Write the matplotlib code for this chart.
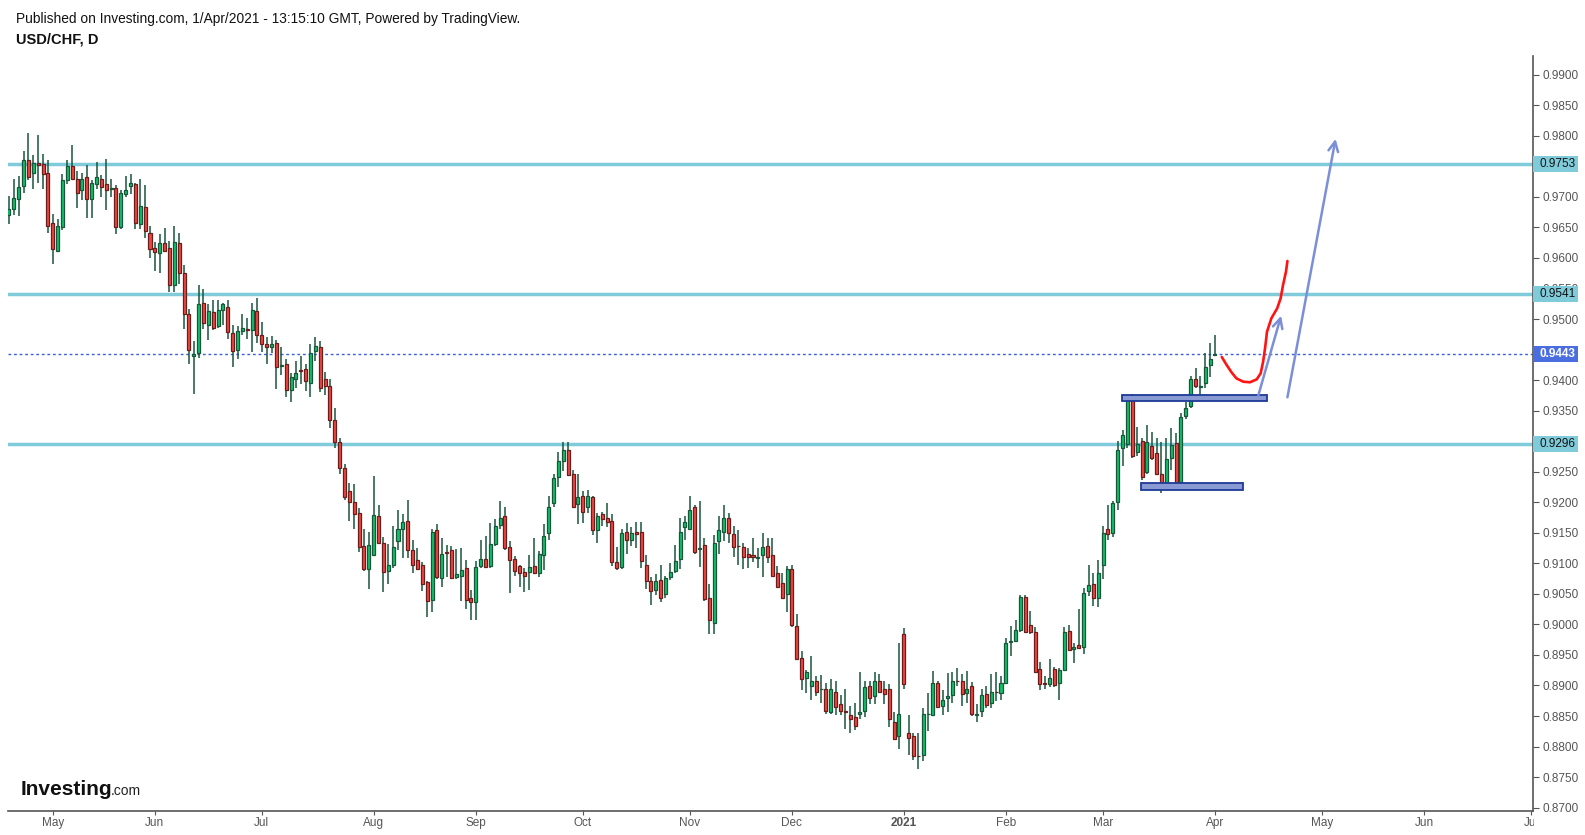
import numpy as np
import pandas as pd
import matplotlib.pyplot as plt
import matplotlib.transforms as mtransforms
from matplotlib.patches import Rectangle

plt.rcParams['font.family'] = ['Liberation Sans', 'DejaVu Sans']

# daily bars, first bar 20 Apr 2020, last bar 1 Apr 2021 (weekdays)
first_day = '2020-04-20'
axis_end = '2021-07-01'

opens = [
    0.9671, 0.9680, 0.9697, 0.9717, 0.9760, 0.9739, 0.9755, 0.9753, 0.9739, 0.9657,
    0.9612, 0.9650, 0.9727, 0.9750, 0.9730, 0.9711, 0.9732, 0.9696, 0.9721, 0.9730,
    0.9721, 0.9713, 0.9714, 0.9650, 0.9705, 0.9717, 0.9721, 0.9655, 0.9683, 0.9640,
    0.9616, 0.9608, 0.9624, 0.9616, 0.9555, 0.9624, 0.9575, 0.9508, 0.9439, 0.9444,
    0.9526, 0.9491, 0.9511, 0.9488, 0.9514, 0.9519, 0.9477, 0.9449, 0.9480, 0.9483,
    0.9482, 0.9513, 0.9473, 0.9459, 0.9454, 0.9460, 0.9423, 0.9426, 0.9383, 0.9401,
    0.9416, 0.9418, 0.9396, 0.9447, 0.9454, 0.9401, 0.9390, 0.9334, 0.9298, 0.9256,
    0.9218, 0.9200, 0.9182, 0.9128, 0.9090, 0.9113, 0.9177, 0.9134, 0.9087, 0.9098,
    0.9136, 0.9157, 0.9169, 0.9121, 0.9105, 0.9098, 0.9069, 0.9040, 0.9154, 0.9076,
    0.9119, 0.9121, 0.9077, 0.9080, 0.9092, 0.9043, 0.9036, 0.9095, 0.9107, 0.9095,
    0.9131, 0.9162, 0.9177, 0.9126, 0.9107, 0.9095, 0.9085, 0.9085, 0.9095, 0.9084,
    0.9113, 0.9149, 0.9198, 0.9241, 0.9268, 0.9286, 0.9247, 0.9197, 0.9210, 0.9192,
    0.9208, 0.9154, 0.9180, 0.9175, 0.9170, 0.9102, 0.9094, 0.9152, 0.9139, 0.9152,
    0.9152, 0.9098, 0.9071, 0.9056, 0.9072, 0.9049, 0.9077, 0.9087, 0.9107, 0.9159,
    0.9157, 0.9192, 0.9123, 0.9130, 0.9043, 0.9002, 0.9136, 0.9152, 0.9175, 0.9148,
    0.9129, 0.9126, 0.9115, 0.9113, 0.9108, 0.9113, 0.9128, 0.9113, 0.9084, 0.9067,
    0.9049, 0.9090, 0.8997, 0.8945, 0.8913, 0.8899, 0.8907, 0.8894, 0.8894, 0.8856,
    0.8889, 0.8869, 0.8859, 0.8851, 0.8848, 0.8853, 0.8859, 0.8899, 0.8882, 0.8908,
    0.8895, 0.8894, 0.8840, 0.8818, 0.8985, 0.8822, 0.8817, 0.8785, 0.8786, 0.8853,
    0.8851, 0.8904, 0.8866, 0.8879, 0.8884, 0.8908, 0.8907, 0.8887, 0.8899, 0.8852,
    0.8858, 0.8886, 0.8871, 0.8890, 0.8888, 0.8904, 0.8972, 0.8973, 0.8991, 0.9045,
    0.8999, 0.8988, 0.8927, 0.8904, 0.8902, 0.8927, 0.8904, 0.8925, 0.8989, 0.8959,
    0.8966, 0.8963, 0.9054, 0.9066, 0.9044, 0.9097, 0.9156, 0.9149, 0.9200, 0.9288,
    0.9295, 0.9368, 0.9283, 0.9300, 0.9249, 0.9292, 0.9280, 0.9247, 0.9228, 0.9272,
    0.9297, 0.9233, 0.9341, 0.9357, 0.9401, 0.9389, 0.9395, 0.9425, 0.9441,
]
highs = [
    0.9701, 0.9729, 0.9734, 0.9775, 0.9804, 0.9769, 0.9801, 0.9770, 0.9760, 0.9672,
    0.9664, 0.9737, 0.9760, 0.9785, 0.9742, 0.9739, 0.9752, 0.9728, 0.9757, 0.9736,
    0.9762, 0.9730, 0.9719, 0.9711, 0.9734, 0.9737, 0.9723, 0.9729, 0.9719, 0.9653,
    0.9626, 0.9639, 0.9649, 0.9628, 0.9652, 0.9640, 0.9588, 0.9516, 0.9464, 0.9555,
    0.9549, 0.9524, 0.9531, 0.9531, 0.9526, 0.9531, 0.9490, 0.9488, 0.9509, 0.9501,
    0.9526, 0.9534, 0.9495, 0.9470, 0.9472, 0.9465, 0.9454, 0.9434, 0.9411, 0.9432,
    0.9439, 0.9426, 0.9459, 0.9470, 0.9464, 0.9413, 0.9401, 0.9354, 0.9305, 0.9263,
    0.9231, 0.9230, 0.9190, 0.9156, 0.9151, 0.9243, 0.9195, 0.9143, 0.9131, 0.9161,
    0.9187, 0.9180, 0.9203, 0.9138, 0.9125, 0.9102, 0.9071, 0.9157, 0.9164, 0.9141,
    0.9130, 0.9128, 0.9123, 0.9125, 0.9105, 0.9056, 0.9103, 0.9138, 0.9144, 0.9166,
    0.9172, 0.9202, 0.9193, 0.9136, 0.9112, 0.9098, 0.9092, 0.9113, 0.9141, 0.9120,
    0.9164, 0.9210, 0.9246, 0.9283, 0.9298, 0.9299, 0.9252, 0.9246, 0.9218, 0.9220,
    0.9210, 0.9182, 0.9184, 0.9198, 0.9180, 0.9126, 0.9157, 0.9166, 0.9159, 0.9167,
    0.9167, 0.9113, 0.9077, 0.9082, 0.9097, 0.9080, 0.9100, 0.9130, 0.9175, 0.9177,
    0.9210, 0.9195, 0.9202, 0.9141, 0.9066, 0.9146, 0.9178, 0.9196, 0.9182, 0.9161,
    0.9154, 0.9133, 0.9125, 0.9141, 0.9125, 0.9150, 0.9141, 0.9141, 0.9095, 0.9084,
    0.9095, 0.9097, 0.9017, 0.8956, 0.8925, 0.8949, 0.8915, 0.8917, 0.8904, 0.8910,
    0.8907, 0.8884, 0.8894, 0.8866, 0.8871, 0.8922, 0.8907, 0.8907, 0.8922, 0.8918,
    0.8907, 0.8902, 0.8856, 0.8969, 0.8994, 0.8851, 0.8823, 0.8823, 0.8863, 0.8887,
    0.8923, 0.8907, 0.8892, 0.8920, 0.8922, 0.8928, 0.8918, 0.8923, 0.8905, 0.8869,
    0.8895, 0.8899, 0.8918, 0.8922, 0.8915, 0.8977, 0.8997, 0.9007, 0.9048, 0.9048,
    0.9022, 0.8996, 0.8938, 0.8915, 0.8943, 0.8930, 0.8928, 0.8996, 0.8999, 0.8969,
    0.9026, 0.9059, 0.9097, 0.9084, 0.9105, 0.9161, 0.9195, 0.9202, 0.9300, 0.9319,
    0.9372, 0.9377, 0.9324, 0.9306, 0.9326, 0.9315, 0.9306, 0.9298, 0.9306, 0.9321,
    0.9313, 0.9346, 0.9364, 0.9406, 0.9419, 0.9406, 0.9444, 0.9460, 0.9473,
]
lows = [
    0.9656, 0.9670, 0.9669, 0.9707, 0.9728, 0.9713, 0.9722, 0.9713, 0.9640, 0.9590,
    0.9610, 0.9646, 0.9721, 0.9729, 0.9681, 0.9695, 0.9666, 0.9666, 0.9713, 0.9699,
    0.9678, 0.9699, 0.9639, 0.9647, 0.9699, 0.9704, 0.9647, 0.9647, 0.9633, 0.9600,
    0.9579, 0.9575, 0.9609, 0.9545, 0.9544, 0.9557, 0.9483, 0.9426, 0.9377, 0.9436,
    0.9483, 0.9465, 0.9482, 0.9485, 0.9490, 0.9467, 0.9421, 0.9434, 0.9473, 0.9468,
    0.9446, 0.9461, 0.9446, 0.9427, 0.9444, 0.9385, 0.9409, 0.9372, 0.9364, 0.9387,
    0.9393, 0.9382, 0.9372, 0.9431, 0.9380, 0.9375, 0.9322, 0.9288, 0.9247, 0.9204,
    0.9169, 0.9157, 0.9119, 0.9088, 0.9058, 0.9112, 0.9133, 0.9053, 0.9066, 0.9092,
    0.9121, 0.9108, 0.9108, 0.9084, 0.9089, 0.9054, 0.9012, 0.9020, 0.9074, 0.9062,
    0.9077, 0.9074, 0.9074, 0.9038, 0.9026, 0.9008, 0.9008, 0.9092, 0.9092, 0.9092,
    0.9128, 0.9157, 0.9121, 0.9051, 0.9079, 0.9061, 0.9053, 0.9056, 0.9082, 0.9077,
    0.9089, 0.9138, 0.9192, 0.9225, 0.9251, 0.9243, 0.9190, 0.9164, 0.9166, 0.9182,
    0.9146, 0.9134, 0.9161, 0.9159, 0.9095, 0.9089, 0.9090, 0.9115, 0.9128, 0.9125,
    0.9092, 0.9058, 0.9031, 0.9048, 0.9036, 0.9043, 0.9072, 0.9084, 0.9090, 0.9138,
    0.9156, 0.9116, 0.9094, 0.9038, 0.8984, 0.8985, 0.9115, 0.9137, 0.9133, 0.9110,
    0.9097, 0.9090, 0.9092, 0.9102, 0.9092, 0.9077, 0.9100, 0.9079, 0.9061, 0.9041,
    0.9020, 0.8995, 0.8941, 0.8892, 0.8887, 0.8877, 0.8882, 0.8872, 0.8854, 0.8853,
    0.8851, 0.8851, 0.8828, 0.8823, 0.8827, 0.8845, 0.8848, 0.8869, 0.8869, 0.8889,
    0.8869, 0.8832, 0.8811, 0.8796, 0.8895, 0.8787, 0.8778, 0.8763, 0.8776, 0.8825,
    0.8850, 0.8863, 0.8851, 0.8856, 0.8871, 0.8899, 0.8866, 0.8871, 0.8850, 0.8840,
    0.8848, 0.8863, 0.8863, 0.8874, 0.8877, 0.8904, 0.8948, 0.8972, 0.8988, 0.8987,
    0.8984, 0.8920, 0.8892, 0.8894, 0.8898, 0.8898, 0.8877, 0.8923, 0.8956, 0.8936,
    0.8959, 0.8951, 0.9047, 0.9030, 0.9028, 0.9074, 0.9138, 0.9143, 0.9188, 0.9260,
    0.9288, 0.9273, 0.9275, 0.9236, 0.9246, 0.9269, 0.9244, 0.9215, 0.9221, 0.9252,
    0.9224, 0.9231, 0.9337, 0.9354, 0.9387, 0.9372, 0.9387, 0.9405, 0.9439,
]
closes = [
    0.9680, 0.9698, 0.9716, 0.9760, 0.9732, 0.9755, 0.9752, 0.9737, 0.9653, 0.9614,
    0.9652, 0.9727, 0.9750, 0.9730, 0.9707, 0.9730, 0.9696, 0.9722, 0.9732, 0.9716,
    0.9712, 0.9714, 0.9651, 0.9706, 0.9711, 0.9722, 0.9657, 0.9685, 0.9644, 0.9614,
    0.9609, 0.9624, 0.9612, 0.9555, 0.9626, 0.9576, 0.9508, 0.9449, 0.9442, 0.9524,
    0.9493, 0.9513, 0.9486, 0.9514, 0.9524, 0.9478, 0.9447, 0.9480, 0.9485, 0.9482,
    0.9514, 0.9473, 0.9459, 0.9454, 0.9459, 0.9421, 0.9424, 0.9383, 0.9405, 0.9411,
    0.9415, 0.9398, 0.9444, 0.9455, 0.9387, 0.9390, 0.9334, 0.9298, 0.9256, 0.9208,
    0.9200, 0.9180, 0.9126, 0.9090, 0.9130, 0.9179, 0.9134, 0.9085, 0.9098, 0.9126,
    0.9157, 0.9167, 0.9121, 0.9097, 0.9090, 0.9066, 0.9038, 0.9151, 0.9077, 0.9116,
    0.9117, 0.9076, 0.9082, 0.9089, 0.9040, 0.9036, 0.9094, 0.9107, 0.9094, 0.9131,
    0.9161, 0.9174, 0.9125, 0.9105, 0.9087, 0.9084, 0.9080, 0.9094, 0.9084, 0.9116,
    0.9144, 0.9193, 0.9239, 0.9268, 0.9286, 0.9244, 0.9192, 0.9208, 0.9184, 0.9210,
    0.9154, 0.9177, 0.9172, 0.9167, 0.9102, 0.9092, 0.9149, 0.9139, 0.9149, 0.9148,
    0.9103, 0.9071, 0.9054, 0.9071, 0.9043, 0.9076, 0.9085, 0.9103, 0.9152, 0.9167,
    0.9188, 0.9118, 0.9125, 0.9041, 0.9007, 0.9134, 0.9154, 0.9174, 0.9149, 0.9126,
    0.9128, 0.9111, 0.9110, 0.9110, 0.9110, 0.9126, 0.9111, 0.9080, 0.9062, 0.9043,
    0.9090, 0.8999, 0.8943, 0.8910, 0.8922, 0.8907, 0.8890, 0.8894, 0.8859, 0.8894,
    0.8864, 0.8858, 0.8856, 0.8845, 0.8833, 0.8856, 0.8897, 0.8879, 0.8907, 0.8890,
    0.8886, 0.8845, 0.8812, 0.8854, 0.8902, 0.8814, 0.8784, 0.8784, 0.8853, 0.8854,
    0.8904, 0.8864, 0.8877, 0.8882, 0.8908, 0.8907, 0.8886, 0.8895, 0.8853, 0.8853,
    0.8884, 0.8868, 0.8889, 0.8889, 0.8904, 0.8969, 0.8973, 0.8991, 0.9045, 0.8988,
    0.8987, 0.8922, 0.8902, 0.8903, 0.8913, 0.8900, 0.8925, 0.8987, 0.8958, 0.8963,
    0.8961, 0.9051, 0.9064, 0.9044, 0.9084, 0.9149, 0.9148, 0.9198, 0.9285, 0.9310,
    0.9367, 0.9275, 0.9295, 0.9242, 0.9298, 0.9272, 0.9246, 0.9224, 0.9270, 0.9293,
    0.9231, 0.9339, 0.9355, 0.9401, 0.9390, 0.9390, 0.9421, 0.9434, 0.9443,
]

levels = [0.9753, 0.9541, 0.9296]
last_price = 0.9443
price_ticks = [0.8700, 0.8750, 0.8800, 0.8850, 0.8900, 0.8950, 0.9000, 0.9050,
               0.9100, 0.9150, 0.9200, 0.9250, 0.9300, 0.9350, 0.9400, 0.9450,
               0.9500, 0.9550, 0.9600, 0.9650, 0.9700, 0.9750, 0.9800, 0.9850,
               0.9900]

# drawings, anchored at (bar number, price)
zones = [(228.9, 258.7, 0.9366, 0.9376), (232.8, 253.8, 0.9220, 0.9231)]
arrow_tails = [(256.9, 0.93745), (262.9, 0.93718)]
arrow_tips = [(261.6, 0.95054), (272.8, 0.97949)]
curve_bars = [249.4, 250.4, 251.4, 252.4, 253.8, 255.2, 256.6, 257.4, 257.9,
              258.3, 258.7, 259.6, 260.8, 261.5, 262.0, 262.6, 262.9]
curve_prices = [0.94378, 0.94247, 0.94128, 0.94029, 0.93974, 0.93964, 0.94013,
                0.94111, 0.94301, 0.94521, 0.94792, 0.95012, 0.95176, 0.95339,
                0.95557, 0.95775, 0.95950]

GREEN = '#10c36a'
GREEN_EDGE = '#17563a'
RED = '#f2473f'
RED_EDGE = '#6a1d1d'
WICK = '#17563a'
LEVEL = '#80cbd9'
AXIS_GREY = '#555555'

W, H = 1585, 835
fig = plt.figure(figsize=(W / 100, H / 100), dpi=100)
ax = fig.add_axes([8 / W, 1 - 811 / H, (1533 - 8) / W, (811 - 56) / H])

o = np.array(opens)
hi = np.array(highs)
lo = np.array(lows)
c = np.array(closes)
x = np.arange(len(o))
up = c >= o

ax.vlines(x, lo, hi, color=WICK, linewidth=1.1, zorder=2)
ax.bar(x[up], (c - o)[up], bottom=o[up], width=0.62, color=GREEN,
       edgecolor=GREEN_EDGE, linewidth=0.9, zorder=3)
ax.bar(x[~up], (o - c)[~up], bottom=c[~up], width=0.62, color=RED,
       edgecolor=RED_EDGE, linewidth=0.9, zorder=3)

for lvl in levels:
    ax.axhline(lvl, color=LEVEL, linewidth=2.5, zorder=1)
ax.axhline(last_price, color='#3b5fdc', linewidth=1, linestyle=(0, (2, 2)), zorder=1)

for x0, x1, y0, y1 in zones:
    ax.add_patch(Rectangle((x0, y0), x1 - x0, y1 - y0, facecolor='#8899d3',
                           edgecolor='#1d3a96', linewidth=1.3, zorder=5))

for tail, tip in zip(arrow_tails, arrow_tips):
    ax.annotate('', xy=tip, xytext=tail, zorder=6,
                arrowprops=dict(arrowstyle='->,head_length=0.7,head_width=0.35',
                                color='#7b8fd8', lw=1.8, shrinkA=0, shrinkB=0))

ax.plot(curve_bars, curve_prices, color='#ff1414', linewidth=1.9,
        solid_capstyle='round', solid_joinstyle='round', zorder=6)

# time axis: a tick at the first trading day of each month
days = pd.bdate_range(first_day, axis_end)
month_start = [i for i in range(len(days)) if i == 0 or days[i].month != days[i - 1].month][1:]
month_names = ['2021' if days[i].month == 1 else days[i].strftime('%b') for i in month_start]

ax.set_xlim(-0.2, 313.4)
ax.set_ylim(0.86945, 0.99306)

ax.set_xticks(month_start)
ax.set_xticklabels(month_names)
for lab in ax.get_xticklabels():
    if lab.get_text() == '2021':
        lab.set_fontweight('bold')
        lab.set_color('#333333')

# labels fully hidden under a price tag are left out; 0.9550 peeks out above its tag
tagged = levels + [last_price]
ax.yaxis.tick_right()
ax.set_yticks(price_ticks)
ax.set_yticklabels(['' if min(abs(v - t) for t in tagged) < 0.0008 else '%.4f' % v
                    for v in price_ticks])
ax.tick_params(axis='both', direction='out', length=4, width=0.8, color=AXIS_GREY,
               labelcolor=AXIS_GREY, labelsize=8.5)
ax.tick_params(axis='x', length=3, pad=1)
ax.tick_params(axis='y', pad=3)

for side in ['left', 'top']:
    ax.spines[side].set_visible(False)
for side in ['right', 'bottom']:
    ax.spines[side].set_color(AXIS_GREY)
    ax.spines[side].set_linewidth(1.2)

# price tags on the scale
trans = mtransforms.blended_transform_factory(ax.transAxes, ax.transData)
box_w = 45 / 1525
box_h = 16 / 6108
tags = [(lvl, LEVEL, '#111111', 'normal') for lvl in levels]
tags.append((last_price, '#4a6ee0', 'white', 'bold'))
for val, bg, fg, wt in tags:
    ax.add_patch(Rectangle((1.0, val - box_h / 2), box_w, box_h, transform=trans,
                           facecolor=bg, edgecolor='none', clip_on=False, zorder=7))
    ax.text(1.0 + 7 / 1525, val, '%.4f' % val, transform=trans, color=fg,
            fontsize=8.5, fontweight=wt, va='center', ha='left', clip_on=False, zorder=8)

# price scale panel ends at the time axis
fig.patches.append(Rectangle((1534 / W, 0), 1, 1 - 812 / H, transform=fig.transFigure,
                             facecolor='white', edgecolor='none', zorder=10))

fig.text(16 / W, 1 - 19 / H,
         'Published on Investing.com, 1/Apr/2021 - 13:15:10 GMT, Powered by TradingView.',
         fontsize=9.9, va='center', ha='left', color='#111111')
fig.text(16 / W, 1 - 40 / H, 'USD/CHF, D', fontsize=10.5, fontweight='bold',
         va='center', ha='left', color='#111111')

logo = fig.text(21 / W, 1 - 795 / H, 'Investing', fontsize=15, fontweight='bold',
                va='baseline', ha='left', color='#111111')
ax.annotate('.com', xy=(1, 0), xycoords=logo, xytext=(-1.5, 0.5), textcoords='offset points',
            fontsize=10, va='bottom', ha='left', color='#222222')

fig.savefig('out.png', dpi=100, facecolor='white')
